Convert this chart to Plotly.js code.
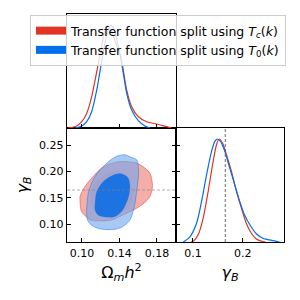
<!DOCTYPE html>
<html><head><meta charset="utf-8">
<script src="https://cdn.plot.ly/plotly-3.0.1.min.js"></script>
<style>html,body{margin:0;padding:0;background:#fff}#chart{width:300px;height:300px}</style>
</head><body><div id="chart"></div>
<script>
// Tick values / labels
const omegaTicks = [0.10, 0.14, 0.18];
const omegaTickText = ['0.10', '0.14', '0.18'];
const gammaTicks = [0.10, 0.15, 0.20, 0.25];
const gammaTickText = ['0.10', '0.15', '0.20', '0.25'];
const gammaMargTicks = [0.1, 0.2];
const gammaMargTickText = ['0.1', '0.2'];
const truthGamma = 0.165;

const seriesNames = ['Transfer function split using <i>T</i><sub><i>c</i></sub>(<i>k</i>)',
                     'Transfer function split using <i>T</i><sub>0</sub>(<i>k</i>)'];

// 1D marginal of Omega_m h^2
const omRedX = [0.0851,0.0943,0.0997,0.1050,0.1103,0.1139,0.1174,0.1199,0.1229,0.1256,0.1272,0.1299,0.1331,0.1363,0.1413,0.1441,0.1477,0.1530,0.1601,0.1690,0.1797,0.1903,0.1957];
const omRedP = [0,0.019,0.061,0.142,0.302,0.463,0.625,0.736,0.88,0.975,1.0,0.965,0.9,0.82,0.70,0.56,0.367,0.206,0.109,0.061,0.039,0.013,0];
const omBlueX = [0.0925,0.0997,0.1050,0.1103,0.1157,0.1192,0.1224,0.1256,0.1283,0.1309,0.1336,0.1368,0.1405,0.1441,0.1477,0.1530,0.1601,0.1672,0.1725];
const omBlueP = [0,0.019,0.061,0.158,0.367,0.55,0.72,0.87,0.96,1.0,0.97,0.87,0.72,0.531,0.336,0.174,0.071,0.019,0];

// 1D marginal of gamma_B
const gamRedX = [0.096,0.1006,0.1106,0.1206,0.1306,0.1406,0.1474,0.1526,0.1594,0.1674,0.1774,0.1874,0.1974,0.2074,0.2174,0.2274,0.2374,0.246];
const gamRedP = [0,0.007,0.071,0.233,0.492,0.783,0.945,1.0,0.961,0.848,0.686,0.492,0.33,0.18,0.085,0.03,0.008,0];
const gamBlueX = [0.0806,0.094,0.1074,0.1174,0.1274,0.1374,0.144,0.1486,0.1554,0.164,0.174,0.184,0.194,0.204,0.214,0.2274,0.2406,0.2606,0.274];
const gamBlueP = [0,0.05,0.184,0.395,0.653,0.88,0.977,1.0,0.977,0.88,0.718,0.556,0.395,0.26,0.17,0.08,0.036,0.013,0];

// 2D contours (Omega_m h^2, gamma_B)
const red95Om = [0.0979,0.0979,0.0989,0.1014,0.1053,0.1085,0.1192,0.1317,0.1448,0.1565,0.1637,0.1693,0.1725,0.1750,0.1750,0.1725,0.1672,0.1583,0.1491,0.1423,0.1299,0.1210,0.1103,0.1032,0.0979];
const red95Gam = [0.1525,0.1462,0.1271,0.1195,0.1128,0.1080,0.1061,0.1080,0.1185,0.1284,0.1366,0.1452,0.1525,0.1685,0.1781,0.1971,0.2067,0.2162,0.2187,0.2193,0.2149,0.2067,0.1876,0.1716,0.1525];
const red68Om = [0.1096,0.1107,0.1149,0.1224,0.1320,0.1405,0.1480,0.1523,0.1539,0.1528,0.1491,0.1416,0.1320,0.1213,0.1139,0.1096];
const red68Gam = [0.1462,0.1653,0.1805,0.1920,0.1987,0.1996,0.1939,0.1805,0.1615,0.1424,0.1309,0.1233,0.1195,0.1176,0.1214,0.1462];
const blue95Om = [0.1459,0.1523,0.1583,0.1601,0.1603,0.1594,0.1581,0.1565,0.1544,0.1512,0.1437,0.1352,0.1245,0.1139,0.1067,0.1050,0.1050,0.1057,0.1067,0.1096,0.1139,0.1245,0.1352,0.1405,0.1459];
const blue95Gam = [0.2321,0.2273,0.2225,0.2097,0.1939,0.1781,0.1595,0.1399,0.1233,0.1080,0.0956,0.0903,0.0899,0.0941,0.1048,0.1176,0.1271,0.1443,0.1590,0.1748,0.1906,0.2130,0.2277,0.2311,0.2321];
const blue68Om = [0.1423,0.1494,0.1512,0.1507,0.1487,0.1459,0.1423,0.1352,0.1281,0.1174,0.1139,0.1139,0.1157,0.1227,0.1317,0.1373,0.1423];
const blue68Gam = [0.1958,0.1876,0.1716,0.1595,0.1462,0.1347,0.1239,0.1140,0.1130,0.1170,0.1271,0.1399,0.1620,0.1811,0.1920,0.1958,0.1958];

const RED = '#E03424', BLUE = '#006FED';
const FONT = 'DejaVu Sans, Liberation Sans, sans-serif';

function area(x, y, fill, lineColor, lw) {
  return {type:'scatter', x:x, y:y, xaxis:'x', yaxis:'y', mode:'lines', fill:'toself',
    fillcolor:fill, line:{color:lineColor, width:lw, shape:'spline', smoothing:1},
    showlegend:false, hoverinfo:'skip'};
}
function curve(x, y, xa, ya, color) {
  return {type:'scatter', x:x, y:y, xaxis:xa, yaxis:ya, mode:'lines',
    line:{color:color, width:1.2, shape:'spline', smoothing:0.8}, showlegend:false, hoverinfo:'skip'};
}
function legendItem(name, color) {
  return {type:'scatter', x:[null], y:[null], xaxis:'x', yaxis:'y', mode:'lines', fill:'toself',
    fillcolor:color, line:{color:color, width:4}, name:name, showlegend:true, hoverinfo:'skip'};
}

const traces = [
  area(red95Om, red95Gam, 'rgba(224,52,36,0.4)', 'rgba(224,52,36,0.6)', 0.8),
  area(red68Om, red68Gam, 'rgba(224,52,36,0.1)', 'rgba(224,52,36,0)', 0),
  area(blue95Om, blue95Gam, 'rgba(110,165,240,0.6)', 'rgba(0,111,237,0.55)', 0.8),
  area(blue68Om, blue68Gam, 'rgba(0,105,230,0.82)', 'rgba(0,111,237,0)', 0),
  curve(omRedX, omRedP, 'x2', 'y2', RED),
  curve(omBlueX, omBlueP, 'x2', 'y2', BLUE),
  curve(gamRedX, gamRedP, 'x3', 'y3', RED),
  curve(gamBlueX, gamBlueP, 'x3', 'y3', BLUE),
  {type:'scatter', x:[], y:[], xaxis:'x3', yaxis:'y4', mode:'lines', showlegend:false, hoverinfo:'skip'},
  legendItem(seriesNames[0], RED),
  legendItem(seriesNames[1], BLUE)
];

const OM_RANGE = [0.084, 0.2003];
const GAM_RANGE = [0.066, 0.283];
const axBase = {showgrid:false, zeroline:false, showline:true, linecolor:'#000', linewidth:1.3,
  ticks:'inside', ticklen:4, tickwidth:1, tickcolor:'#000', fixedrange:true,
  tickfont:{family:FONT, size:11, color:'#000'}};

const layout = {
  width:300, height:300, margin:{l:0, r:0, t:0, b:0},
  paper_bgcolor:'#fff', plot_bgcolor:'rgba(0,0,0,0)',
  font:{family:FONT, color:'#000'},
  xaxis: Object.assign({}, axBase, {domain:[0.2233,0.5867], anchor:'y', range:OM_RANGE, mirror:true,
    tickvals:omegaTicks, ticktext:omegaTickText,
    title:{text:'Ω<sub><i>m</i></sub><i>h</i><sup>2</sup>', font:{family:FONT, size:16, color:'#000'}, standoff:8}}),
  yaxis: Object.assign({}, axBase, {domain:[0.1933,0.5733], anchor:'x', range:GAM_RANGE, mirror:'ticks',
    tickvals:gammaTicks, ticktext:gammaTickText,
    title:{text:'<i>γ</i><sub><i>B</i></sub>', font:{family:FONT, size:16, color:'#000'}, standoff:6}}),
  xaxis2: Object.assign({}, axBase, {domain:[0.2233,0.5867], anchor:'y2', range:OM_RANGE, mirror:true,
    tickvals:omegaTicks, showticklabels:false}),
  yaxis2: Object.assign({}, axBase, {domain:[0.5733,0.9533], anchor:'x2', range:[0,1.107], mirror:true,
    ticks:'', showticklabels:false}),
  xaxis3: Object.assign({}, axBase, {domain:[0.5867,0.9467], anchor:'y3', range:GAM_RANGE, mirror:true,
    tickvals:gammaMargTicks, ticktext:gammaMargTickText,
    title:{text:'<i>γ</i><sub><i>B</i></sub>', font:{family:FONT, size:16, color:'#000'}, standoff:8}}),
  yaxis3: Object.assign({}, axBase, {domain:[0.1933,0.5733], anchor:'x3', range:[0,1.107], mirror:true,
    ticks:'', showticklabels:false}),
  yaxis4: Object.assign({}, axBase, {overlaying:'y3', anchor:'x3', side:'left', range:GAM_RANGE,
    showline:false, tickvals:gammaTicks, showticklabels:false}),
  shapes:[
    {type:'line', xref:'x domain', x0:0, x1:1, yref:'y', y0:truthGamma, y1:truthGamma,
      line:{color:'rgba(130,130,130,0.65)', width:1, dash:'3px,2px'}},
    {type:'line', xref:'x3', x0:truthGamma, x1:truthGamma, yref:'y3 domain', y0:0, y1:1,
      line:{color:'rgba(90,90,90,0.9)', width:1, dash:'3px,2px'}}
  ],
  showlegend:true,
  legend:{x:0.1, y:0.95, xanchor:'left', yanchor:'top', bgcolor:'rgba(255,255,255,0.8)',
    bordercolor:'#cccccc', borderwidth:1, font:{family:FONT, size:12.5, color:'#000'},
    tracegroupgap:0, itemwidth:30, traceorder:'normal'}
};

Plotly.newPlot('chart', traces, layout, {displayModeBar:false, staticPlot:true});
</script>
</body></html>
